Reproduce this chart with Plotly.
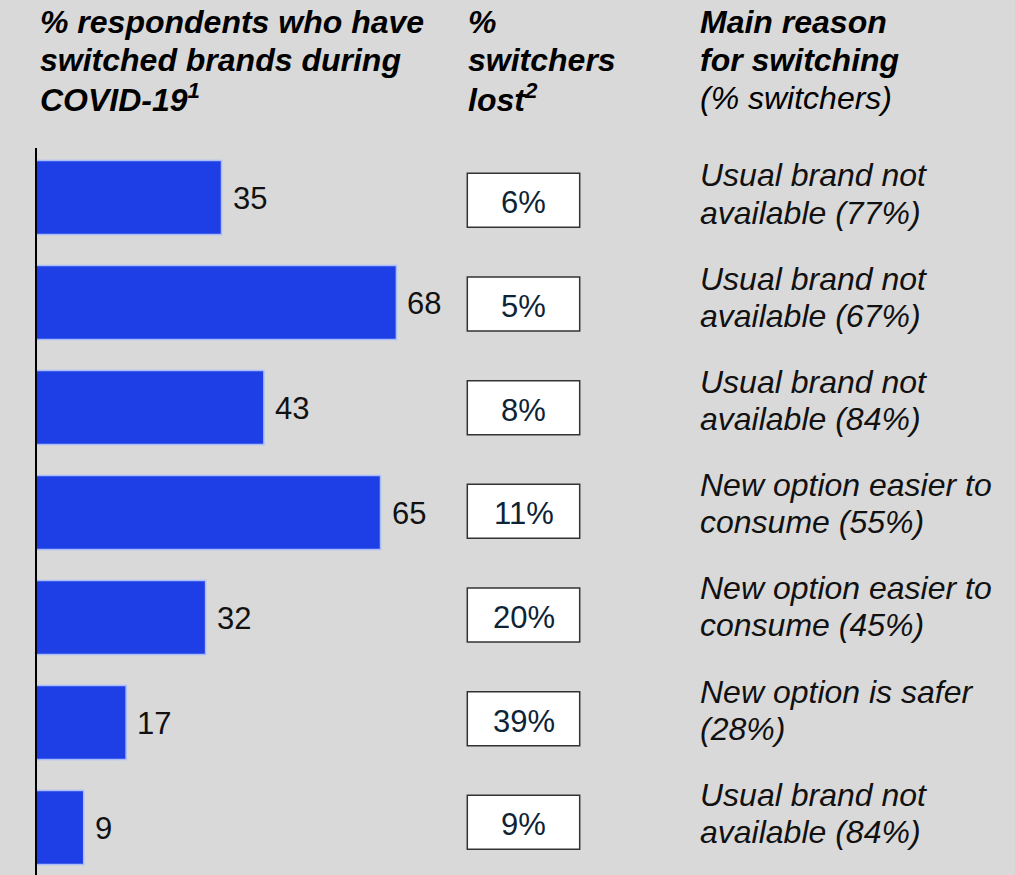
import plotly.graph_objects as go

# Share of respondents who switched brands, by row (top to bottom)
switched_pct = [35, 68, 43, 65, 32, 17, 9]
# Share of switchers lost
switchers_lost = ["6%", "5%", "8%", "11%", "20%", "39%", "9%"]
# Main reason for switching (two lines each)
main_reason = [
    ("Usual brand not", "available (77%)"),
    ("Usual brand not", "available (67%)"),
    ("Usual brand not", "available (84%)"),
    ("New option easier to", "consume (55%)"),
    ("New option easier to", "consume (45%)"),
    ("New option is safer", "(28%)"),
    ("Usual brand not", "available (84%)"),
]

FONT = "Liberation Sans, Arial, Helvetica, sans-serif"
BG = "#d9d9d9"
BAR = "#1f3fe6"
rows = list(range(len(switched_pct)))

PLOT_L, PLOT_T, W, H = 36, 145, 1015, 875
PLOT_W, PLOT_H = W - PLOT_L, H - PLOT_T
ROW_PX = 105.0

# Side-column layout (pixels): boxes and reason lines
BOX_TOP_CENTER, BOX_PITCH, BOX_HALF = 200.3, 103.67, 27.0
BOX_LEFT, BOX_RIGHT = 467.3, 579.7
REASON_TOP_CENTER, REASON_PITCH, REASON_LINE = 177.0, 103.2, 37.0
TEXT_NUDGE = 1.5  # anchor-to-glyph-centre offset of annotations


def paper_x(px):
    return (px - PLOT_L) / PLOT_W


def paper_y(py):
    return (H - py) / PLOT_H


fig = go.Figure(
    go.Bar(
        x=switched_pct,
        y=rows,
        orientation="h",
        width=0.705,
        marker=dict(color=BAR, line=dict(color="#a9bdfb", width=1.5)),
        hoverinfo="skip",
    )
)

annotations = []
shapes = []

# Vertical baseline of the bar column
shapes.append(dict(
    type="line", xref="paper", yref="y", x0=0, x1=0,
    y0=-0.5 + 3 / ROW_PX, y1=6.452, line=dict(color="#000000", width=2),
    layer="above",
))

# Column 1 value labels next to bars
for i, v in enumerate(switched_pct):
    annotations.append(dict(
        x=v, y=i, xref="x", yref="y", text=str(v), showarrow=False,
        xanchor="left", yanchor="middle", xshift=9, yshift=-1,
        font=dict(family=FONT, size=31, color="#111111"),
    ))

# Column 2 boxed percentages
for i, t in enumerate(switchers_lost):
    cy = BOX_TOP_CENTER + BOX_PITCH * i
    shapes.append(dict(
        type="rect", xref="paper", yref="paper",
        x0=paper_x(BOX_LEFT), x1=paper_x(BOX_RIGHT),
        y0=paper_y(cy + BOX_HALF), y1=paper_y(cy - BOX_HALF),
        fillcolor="white", line=dict(color="#333333", width=1.5), layer="above",
    ))
    annotations.append(dict(
        x=paper_x((BOX_LEFT + BOX_RIGHT) / 2), y=paper_y(cy + 2.5),
        xref="paper", yref="paper", text=t,
        showarrow=False, xanchor="center", yanchor="middle",
        font=dict(family=FONT, size=31, color="#0d2336"),
    ))

# Column 3 reasons, one annotation per line
for i, (l1, l2) in enumerate(main_reason):
    c1 = REASON_TOP_CENTER + REASON_PITCH * i
    for text, cy in ((l1, c1), (l2, c1 + REASON_LINE)):
        annotations.append(dict(
            x=paper_x(698), y=paper_y(cy - TEXT_NUDGE), xref="paper", yref="paper",
            text=text, showarrow=False, xanchor="left", yanchor="middle",
            align="left",
            font=dict(family=FONT, size=32, color="#111111", style="italic"),
        ))

# Column headers, one annotation per line
HEADER_LINES_PY = [22, 60, 98.5]


def header(px_x, lines):
    for text, py in zip(lines, HEADER_LINES_PY):
        annotations.append(dict(
            x=paper_x(px_x), y=paper_y(py), xref="paper", yref="paper",
            text=text, showarrow=False, xanchor="left", yanchor="middle",
            align="left",
            font=dict(family=FONT, size=32, color="#000000", style="italic"),
        ))


header(38, ["<b>% respondents who have</b>", "<b>switched brands during</b>",
            "<b>COVID-19<sup>1</sup></b>"])
header(466, ["<b>%</b>", "<b>switchers</b>", "<b>lost<sup>2</sup></b>"])
header(698, ["<b>Main reason</b>", "<b>for switching</b>", "(% switchers)"])

fig.update_layout(
    width=W, height=H,
    margin=dict(l=PLOT_L, r=0, t=PLOT_T, b=0),
    paper_bgcolor=BG, plot_bgcolor=BG,
    showlegend=False,
    xaxis=dict(range=[0, PLOT_W / 5.3], visible=False, fixedrange=True),
    yaxis=dict(
        range=[6.452, -0.5], autorange=False, showgrid=False, zeroline=False,
        showticklabels=False, ticks="", showline=False, fixedrange=True,
    ),
    annotations=annotations,
    shapes=shapes,
)

fig.write_html("out.html")
